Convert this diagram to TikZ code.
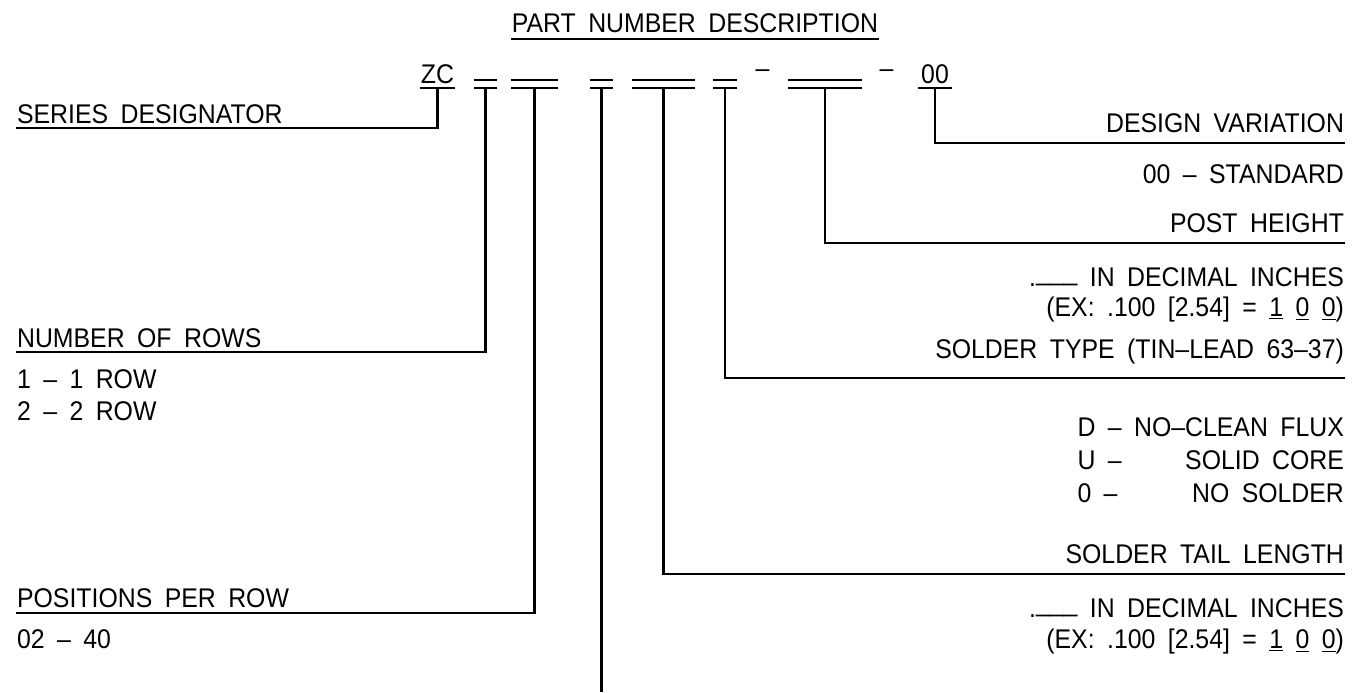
\documentclass[tikz,border=0pt]{standalone}
\usepackage{fontspec}
\setmainfont{Liberation Sans}[WordSpace=1.8,FakeStretch=0.92]
\usetikzlibrary{positioning,calc}
\newcommand{\lblfont}{\fontsize{13.5}{15}\selectfont}
\newcommand{\blanks}{.\raisebox{0.22em}{\_\_\_}}

\begin{document}
\begin{tikzpicture}[
  x=0.5pt,y=-0.5pt,
  line width=1.1pt,
  lbl/.style={inner sep=0pt,font=\lblfont},
  lleft/.style={lbl,anchor=base west},
  lright/.style={lbl,anchor=base east},
  blank/.style={line width=1.1pt}]
\useasboundingbox[fill=white] (0,0) rectangle (1352,692);

% title
\node[lbl,anchor=base] (title) at (695,32) {PART NUMBER DESCRIPTION};
\draw ($(title.base west)+(0,7)$) -- ($(title.base east)+(0,7)$);

% part number
\node[lbl,anchor=base] (zc) at (437.5,83) {ZC};
\node[lbl,anchor=base] (var) at (935,83) {00};
\draw (420,88) -- (455,88) (918,88) -- (952,88);
\coordinate (zcs) at (437.5,88);
\coordinate (vars) at (935,88);
\foreach \a/\b/\n in {474/497/rows,511/558/pos,590/613/opt,632/695/tail,713/737/solder,788/862/post}
  {\draw[blank] (\a,80) -- (\b,80) (\a,88) -- (\b,88);
   \coordinate (\n) at ({(\a+\b)/2},88);}
\node[lbl,anchor=base] (dsh1) at (762.5,77) {–};
\node[lbl,anchor=base] (dsh2) at (886.5,77) {–};

% left side
\node[lleft] (series) at (16,123) {SERIES DESIGNATOR};
\node[lleft] (nrows) at (16,347) {NUMBER OF ROWS};
\node[lleft] (nrows1) at (16,388) {1 – 1 ROW};
\node[lleft] (nrows2) at (16,420) {2 – 2 ROW};
\node[lleft] (ppr) at (16,607) {POSITIONS PER ROW};
\node[lleft] (ppr1) at (16,648) {02 – 40};

\draw (zcs) |- ($(series.base west)+(0,5)$);
\draw (rows) |- ($(nrows.base west)+(0,5)$);
\draw (pos) |- ($(ppr.base west)+(0,6)$);
\coordinate (optend) at (601.5,692);
\draw (opt) -- (optend);

% right side
\node[lright] (desvar) at (1345,132) {DESIGN VARIATION};
\node[lright] (desvar1) at (1345,183) {00 – STANDARD};
\node[lright] (posth) at (1345,232) {POST HEIGHT};
\node[lright] (posth1) at (1345,286) {\blanks{} IN DECIMAL INCHES};
\node[lright] (posth2) at (1345,316) {(EX: .100 [2.54] = \underline{1} \underline{0} \underline{0})};
\node[lright] (stype) at (1345,358) {SOLDER TYPE (TIN–LEAD 63–37)};
\node[lright] (flux) at (1345,436) {D – NO–CLEAN FLUX};
\node[lleft] (core) at ($(flux.base west)+(0,33)$) {U –};
\node[lright] (core1) at (1345,469) {SOLID CORE};
\node[lleft] (none) at ($(flux.base west)+(0,66)$) {0 –};
\node[lright] (none1) at (1345,502) {NO SOLDER};
\node[lright] (stail) at (1345,563) {SOLDER TAIL LENGTH};
\node[lright] (stail1) at (1345,617) {\blanks{} IN DECIMAL INCHES};
\node[lright] (stail2) at (1345,648) {(EX: .100 [2.54] = \underline{1} \underline{0} \underline{0})};

\draw (vars) |- ($(desvar.base east)+(0,11)$);
\draw (post) |- ($(posth.base east)+(0,11)$);
\draw (solder) |- ($(stype.base east)+(0,20)$);
\draw (tail) |- ($(stail.base east)+(0,11)$);
\end{tikzpicture}
\end{document}
